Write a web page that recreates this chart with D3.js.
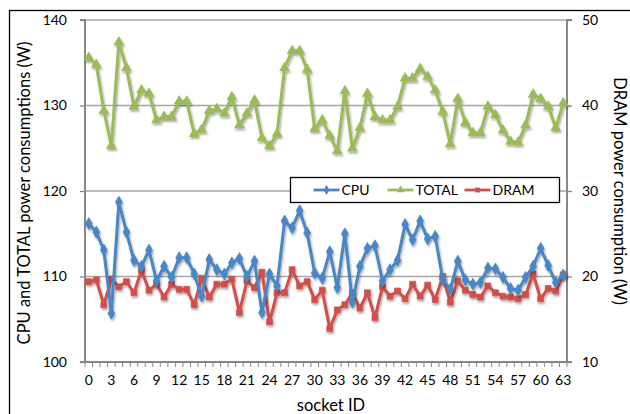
<!DOCTYPE html>
<html>
<head>
<meta charset="utf-8">
<script src="https://cdn.jsdelivr.net/npm/d3@7"></script>
<style>
  body { margin: 0; background: #fff; }
  svg { font-family: Lato, "Open Sans", sans-serif; }
</style>
</head>
<body>
<div id="chart"></div>
<script>
// socket ids 0..63
const sockets = d3.range(64);

const cpu = [116.2, 115.2, 113.1, 105.7, 118.7, 115.2, 111.9, 111.2, 113.1, 109.5,
             111.2, 109.9, 112.2, 112.2, 110.3, 107.7, 112.0, 110.8, 110.3, 111.6,
             112.1, 110.0, 111.8, 105.8, 110.3, 108.9, 116.5, 115.7, 117.7, 115.1,
             110.4, 109.8, 112.9, 108.7, 115.0, 107.0, 111.2, 113.3, 113.6, 109.5,
             110.8, 111.9, 116.1, 114.3, 116.5, 114.4, 114.7, 109.7, 108.5, 111.8,
             109.6, 109.1, 109.3, 111.0, 110.9, 109.9, 108.6, 108.4, 109.9, 111.2,
             113.3, 111.3, 109.3, 110.2];

const total = [135.6, 134.8, 129.4, 125.3, 137.4, 134.4, 129.9, 131.8, 131.4, 128.3,
               128.7, 128.7, 130.5, 130.5, 126.7, 127.2, 129.4, 129.6, 129.1, 131.0,
               127.7, 129.1, 130.6, 126.2, 125.3, 126.7, 134.4, 136.4, 136.4, 134.2,
               127.3, 128.3, 126.5, 124.7, 131.7, 125.0, 127.4, 131.4, 128.7, 128.3,
               128.3, 129.9, 133.2, 133.2, 134.3, 133.4, 131.8, 129.3, 125.5, 130.8,
               128.0, 126.8, 126.8, 129.9, 128.9, 127.1, 125.8, 125.7, 127.7, 131.3,
               130.8, 129.9, 127.4, 130.3];

const dram = [19.4, 19.6, 16.7, 19.7, 18.8, 19.4, 18.1, 20.7, 18.4, 19.1,
              17.6, 19.1, 18.5, 18.5, 16.7, 19.8, 17.6, 19.1, 19.1, 19.7,
              15.8, 19.5, 18.7, 20.5, 14.7, 18.1, 18.1, 20.8, 18.9, 19.4,
              17.3, 18.4, 13.9, 16.1, 16.7, 18.1, 16.3, 18.1, 15.2, 18.8,
              17.7, 18.3, 17.4, 19.1, 17.7, 19.0, 17.3, 20.0, 17.0, 19.5,
              18.4, 17.9, 17.6, 18.9, 18.1, 17.7, 17.6, 17.4, 17.9, 20.3,
              17.4, 18.6, 18.3, 20.2];

const leftTicks = [100, 110, 120, 130, 140];
const rightTicks = [10, 20, 30, 40, 50];
const xTickLabels = d3.range(0, 64, 3);

const width = 630, height = 414;
const margin = { top: 20, right: 63, bottom: 52, left: 85 };
const plotW = width - margin.left - margin.right;
const plotH = height - margin.top - margin.bottom;

const svg = d3.select("#chart").append("svg")
    .attr("width", width)
    .attr("height", height);

// outer frame
svg.append("rect")
   .attr("x", 9.5).attr("y", 10.5)
   .attr("width", 640).attr("height", 420)
   .attr("fill", "none").attr("stroke", "#000").attr("stroke-width", 1.3);

const g = svg.append("g").attr("transform", `translate(${margin.left},${margin.top})`);

// scales
const x = d3.scaleBand().domain(sockets).range([0, plotW]);
const cx = d => x(d) + x.bandwidth() / 2;
const yL = d3.scaleLinear().domain([100, 140]).range([plotH, 0]);
const yR = d3.scaleLinear().domain([10, 50]).range([plotH, 0]);

// gridlines
g.append("g").selectAll("line")
 .data(leftTicks.slice(1))
 .join("line")
 .attr("x1", 0).attr("x2", plotW)
 .attr("y1", d => yL(d)).attr("y2", d => yL(d))
 .attr("stroke", "#a6a6a6").attr("stroke-width", 1.3);

// left axis
const axL = g.append("g")
    .call(d3.axisLeft(yL).tickValues(leftTicks).tickSize(5).tickPadding(13));
// right axis
const axR = g.append("g").attr("transform", `translate(${plotW},0)`)
    .call(d3.axisRight(yR).tickValues(rightTicks).tickSize(5).tickPadding(10));
// bottom axis with minor ticks at every category boundary
const axB = g.append("g").attr("transform", `translate(0,${plotH})`)
    .call(d3.axisBottom(x).tickValues(xTickLabels).tickSize(0).tickPadding(13));
axB.append("g").selectAll("line")
   .data(d3.range(65))
   .join("line")
   .attr("x1", i => i * x.step()).attr("x2", i => i * x.step())
   .attr("y1", 0).attr("y2", 5)
   .attr("stroke", "#888").attr("stroke-width", 1);

[axL, axR, axB].forEach(a => {
    a.select(".domain").attr("stroke", "#888").attr("stroke-width", 2);
    a.selectAll(".tick line").attr("stroke", "#888").attr("stroke-width", 1.3);
    a.selectAll("text").attr("font-size", 14).attr("fill", "#000")
     .attr("font-family", "Lato, 'Open Sans', sans-serif");
});
axL.select(".domain").attr("d", `M-5,${plotH}H0V0H-5`);
axR.select(".domain").attr("d", `M5,${plotH}H0V0H5`);
axB.select(".domain").attr("d", `M0,0H${plotW}`);

// drop shadow filter for series lines
const defs = svg.append("defs");
const f = defs.append("filter").attr("id", "shadow")
    .attr("x", "-10%").attr("y", "-10%").attr("width", "120%").attr("height", "130%");
f.append("feDropShadow").attr("dx", 1).attr("dy", 2).attr("stdDeviation", 1.2)
 .attr("flood-color", "#000").attr("flood-opacity", 0.35);

const series = [
    { name: "CPU",   values: cpu,   y: yL, color: "#4a86c5", marker: d3.symbolDiamond, size: 40 },
    { name: "TOTAL", values: total, y: yL, color: "#9bbb59", marker: d3.symbolTriangle, size: 40 },
    { name: "DRAM",  values: dram,  y: yR, color: "#d0504d", marker: d3.symbolSquare, size: 34 }
];

const drawOrder = [series[2], series[0], series[1]];
drawOrder.forEach(s => {
    const layer = g.append("g").attr("filter", "url(#shadow)");
    const line = d3.line()
        .x((v, i) => cx(sockets[i]))
        .y(v => s.y(v));
    layer.append("path")
         .datum(s.values)
         .attr("d", line)
         .attr("fill", "none")
         .attr("stroke", s.color)
         .attr("stroke-width", 3)
         .attr("stroke-linejoin", "round");
    layer.selectAll("path.m")
         .data(s.values)
         .join("path")
         .attr("class", "m")
         .attr("d", d3.symbol().type(s.marker).size(s.size))
         .attr("transform", (v, i) => `translate(${cx(sockets[i])},${s.y(v)})`)
         .attr("fill", s.color)
         .attr("stroke", s.color)
         .attr("stroke-width", 0.8);
});

// legend
const legend = svg.append("g").attr("transform", "translate(290.5,177.5)");
legend.append("rect")
      .attr("width", 269).attr("height", 25)
      .attr("fill", "#fff").attr("stroke", "#000").attr("stroke-width", 1.3);
const legX = [23, 97, 174];
series.forEach((s, i) => {
    const it = legend.append("g").attr("transform", `translate(${legX[i]},12.5)`);
    it.append("line").attr("x1", 0).attr("x2", 26)
      .attr("stroke", s.color).attr("stroke-width", 2.8);
    it.append("path")
      .attr("d", d3.symbol().type(s.marker).size(s.size * 0.7))
      .attr("transform", "translate(13,0)")
      .attr("fill", s.color);
    it.append("text").attr("x", 28).attr("y", 5)
      .attr("font-size", 14).text(s.name);
});

// axis titles
svg.append("text")
   .attr("transform", `translate(30,${margin.top + plotH / 2 + 2}) rotate(-90)`)
   .attr("text-anchor", "middle")
   .attr("font-size", 16.5)
   .text("CPU and TOTAL power consumptions (W)");
svg.append("text")
   .attr("transform", `translate(614,${margin.top + plotH / 2}) rotate(90)`)
   .attr("text-anchor", "middle")
   .attr("font-size", 16.5)
   .text("DRAM power consumption (W)");
svg.append("text")
   .attr("x", margin.left + plotW / 2 + 5).attr("y", 411)
   .attr("text-anchor", "middle")
   .attr("font-size", 16.5)
   .text("socket ID");
</script>
</body>
</html>
